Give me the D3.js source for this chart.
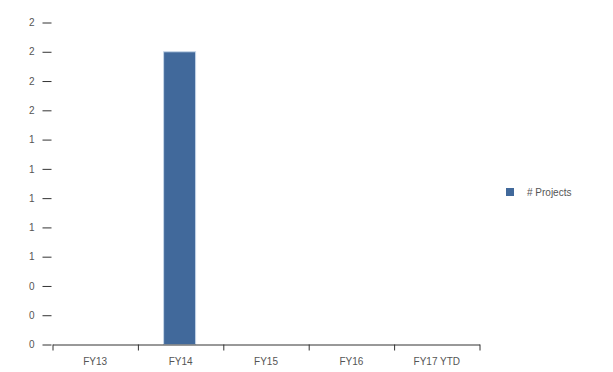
<!DOCTYPE html>
<html><head><meta charset="utf-8">
<script src="https://cdn.jsdelivr.net/npm/d3@7"></script>
<style>
body{margin:0;background:#fff;}
text{font-family:"Liberation Sans",Arial,sans-serif;}
</style></head>
<body><svg id="c" width="613" height="372"></svg>
<script>
const categories = ["FY13","FY14","FY15","FY16","FY17 YTD"];
const projects = [0, 2, 0, 0, 0];
const seriesName = "# Projects";
const yTicks = [0,0.2,0.4,0.6,0.8,1.0,1.2,1.4,1.6,1.8,2.0,2.2];

const svg = d3.select("#c");
const mLeft = 52.5, mRight = 479.5, mTop = 22.5, mBottom = 344.5;
const x = d3.scaleBand().domain(categories).range([mLeft, mRight]);
const y = d3.scaleLinear().domain([0, 2.2]).range([mBottom, mTop]);

// y axis
const ya = svg.append("g").attr("transform", `translate(${mLeft - 1},0)`)
  .call(d3.axisLeft(y).tickValues(yTicks).tickFormat(d3.format("d")).tickSize(9).tickPadding(8));
ya.select(".domain").remove();
ya.selectAll("line").attr("stroke", "#333");
ya.selectAll("text").attr("fill", "#555").style("font-size", "10px");

// bars
const bw = 32;
svg.selectAll("rect.bar").data(categories).enter().append("rect")
  .attr("class","bar")
  .attr("x", (d) => x(d) + x.bandwidth()/2 - bw/2 - 1)
  .attr("width", bw)
  .attr("y", (d,i) => y(projects[i]))
  .attr("height", (d,i) => mBottom - y(projects[i]))
  .attr("fill", "#41699b")
  .attr("stroke", "#c5d5e8").attr("stroke-width", 1);

// x axis: boundary ticks
const xb = d3.scaleLinear().domain([0, categories.length]).range([mLeft, mRight]);
const xa = svg.append("g").attr("transform", `translate(0,${mBottom})`)
  .call(d3.axisBottom(xb).tickValues(d3.range(categories.length + 1)).tickFormat("").tickSize(6).tickSizeOuter(0));
xa.selectAll("path,line").attr("stroke", "#333");
// x labels
const xl = svg.append("g").attr("transform", `translate(0,${mBottom})`)
  .call(d3.axisBottom(x).tickSize(0).tickPadding(13));
xl.select(".domain").remove();
xl.selectAll("text").attr("fill", "#555").style("font-size", "10px");

// legend
const lg = svg.append("g").attr("transform", "translate(506,188)");
lg.append("rect").attr("width", 8).attr("height", 8).attr("fill", "#41699b");
lg.append("text").attr("x", 21).attr("y", 7.5).attr("fill", "#555").style("font-size", "10px").text(seriesName);
</script></body></html>
